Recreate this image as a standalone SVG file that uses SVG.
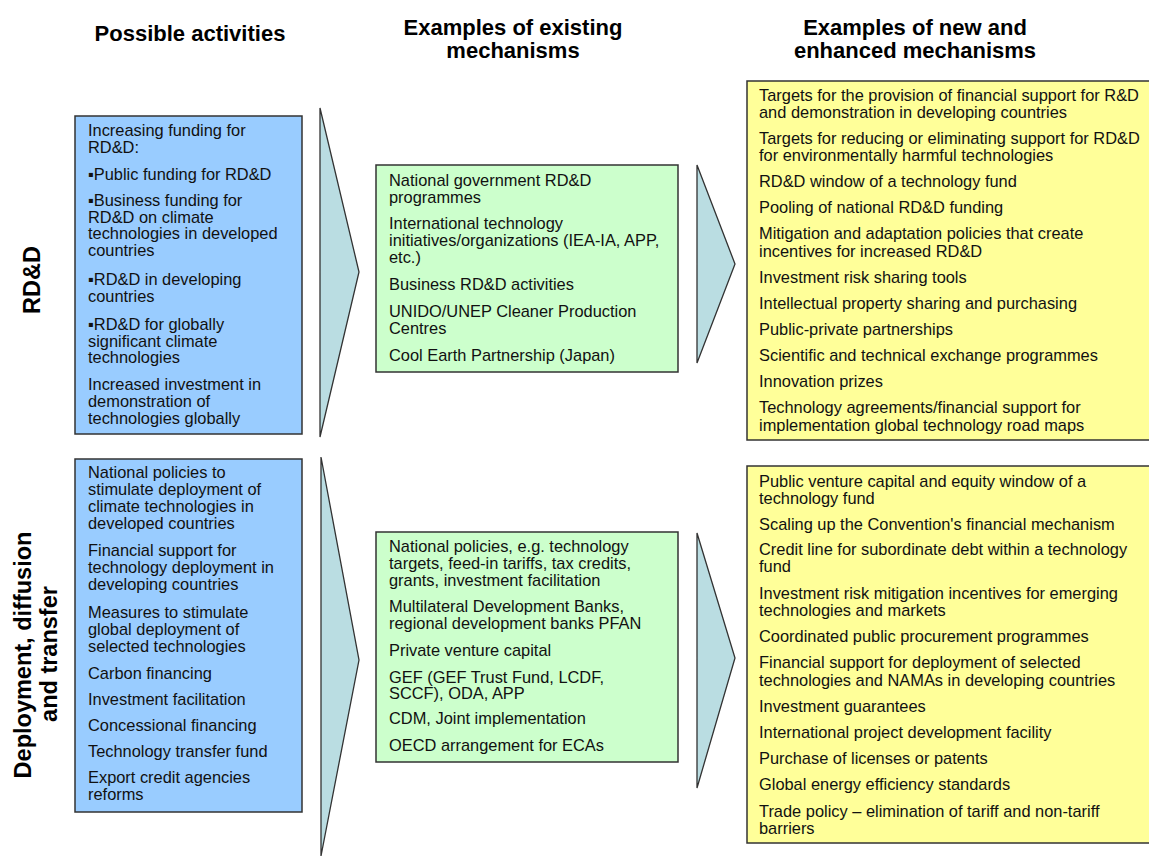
<svg xmlns="http://www.w3.org/2000/svg" width="1149" height="859" viewBox="0 0 1149 859">
<style>
.hd{font-family:"Liberation Sans",Arial,sans-serif;font-weight:bold;font-size:22px;fill:#000}
.side{font-family:"Liberation Sans",Arial,sans-serif;font-weight:bold;font-size:23.5px;fill:#000}
.t{font-family:"Liberation Sans",Arial,sans-serif;font-size:16.4px;fill:#111}
.blue{fill:#99ccff;stroke:#333;stroke-width:1.5}
.green{fill:#ccffcc;stroke:#333;stroke-width:1.5}
.yellow{fill:#ffff99;stroke:#333;stroke-width:1.5}
.arr{fill:#badde2;stroke:#333;stroke-width:1.3;stroke-linejoin:miter}
</style>
<rect width="1149" height="859" fill="#fff"/>
<g id="headers">
<text class="hd" x="190" y="41" text-anchor="middle" font-size="23">Possible activities</text>
<text class="hd" x="513" y="35" text-anchor="middle">Examples of existing</text>
<text class="hd" x="513" y="58" text-anchor="middle">mechanisms</text>
<text class="hd" x="915" y="35" text-anchor="middle">Examples of new and</text>
<text class="hd" x="915" y="58" text-anchor="middle">enhanced mechanisms</text>
</g>
<g id="row-labels">
<text class="side" transform="translate(40,280) rotate(-90)" text-anchor="middle" font-size="22">RD&amp;D</text>
<text class="side" transform="translate(31,655) rotate(-90)" text-anchor="middle">Deployment, diffusion</text>
<text class="side" transform="translate(57,654) rotate(-90)" text-anchor="middle">and transfer</text>
</g>
<g id="connectors">
<polygon class="arr" points="320,108 359,272 320,437"/>
<polygon class="arr" points="697,165 735,264 697,363"/>
<polygon class="arr" points="321,457 359,660 321,856"/>
<polygon class="arr" points="697,533 735,658 697,788"/>
</g>
<g id="rdd-activities">
<rect class="blue" x="75" y="116" width="227" height="318"/>
<text class="t" x="88" y="136">Increasing funding for</text>
<text class="t" x="88" y="153">RD&amp;D:</text>
<text class="t" x="88" y="180">▪Public funding for RD&amp;D</text>
<text class="t" x="88" y="206">▪Business funding for</text>
<text class="t" x="88" y="223">RD&amp;D on climate</text>
<text class="t" x="88" y="239">technologies in developed</text>
<text class="t" x="88" y="256">countries</text>
<text class="t" x="88" y="285">▪RD&amp;D in developing</text>
<text class="t" x="88" y="302">countries</text>
<text class="t" x="88" y="330">▪RD&amp;D for globally</text>
<text class="t" x="88" y="347">significant climate</text>
<text class="t" x="88" y="363">technologies</text>
<text class="t" x="88" y="390">Increased investment in</text>
<text class="t" x="88" y="407">demonstration of</text>
<text class="t" x="88" y="424">technologies globally</text>
</g>
<g id="rdd-existing">
<rect class="green" x="376" y="165" width="302" height="207"/>
<text class="t" x="389" y="186">National government RD&amp;D</text>
<text class="t" x="389" y="203">programmes</text>
<text class="t" x="389" y="229">International technology</text>
<text class="t" x="389" y="246">initiatives/organizations (IEA-IA, APP,</text>
<text class="t" x="389" y="263">etc.)</text>
<text class="t" x="389" y="290">Business RD&amp;D activities</text>
<text class="t" x="389" y="317">UNIDO/UNEP Cleaner Production</text>
<text class="t" x="389" y="334">Centres</text>
<text class="t" x="389" y="361">Cool Earth Partnership (Japan)</text>
</g>
<g id="rdd-new">
<rect class="yellow" x="747" y="81" width="420" height="359"/>
<text class="t" x="759" y="101">Targets for the provision of financial support for R&amp;D</text>
<text class="t" x="759" y="118">and demonstration in developing countries</text>
<text class="t" x="759" y="144">Targets for reducing or eliminating support for RD&amp;D</text>
<text class="t" x="759" y="161">for environmentally harmful technologies</text>
<text class="t" x="759" y="187">RD&amp;D window of a technology fund</text>
<text class="t" x="759" y="213">Pooling of national RD&amp;D funding</text>
<text class="t" x="759" y="239">Mitigation and adaptation policies that create</text>
<text class="t" x="759" y="257">incentives for increased RD&amp;D</text>
<text class="t" x="759" y="283">Investment risk sharing tools</text>
<text class="t" x="759" y="309">Intellectual property sharing and purchasing</text>
<text class="t" x="759" y="335">Public-private partnerships</text>
<text class="t" x="759" y="361">Scientific and technical exchange programmes</text>
<text class="t" x="759" y="387">Innovation prizes</text>
<text class="t" x="759" y="413">Technology agreements/financial support for</text>
<text class="t" x="759" y="431">implementation global technology road maps</text>
</g>
<g id="deploy-activities">
<rect class="blue" x="75" y="459" width="227" height="353"/>
<text class="t" x="88" y="478">National policies to</text>
<text class="t" x="88" y="495">stimulate deployment of</text>
<text class="t" x="88" y="512">climate technologies in</text>
<text class="t" x="88" y="529">developed countries</text>
<text class="t" x="88" y="556">Financial support for</text>
<text class="t" x="88" y="573">technology deployment in</text>
<text class="t" x="88" y="590">developing countries</text>
<text class="t" x="88" y="618">Measures to stimulate</text>
<text class="t" x="88" y="635">global deployment of</text>
<text class="t" x="88" y="652">selected technologies</text>
<text class="t" x="88" y="679">Carbon financing</text>
<text class="t" x="88" y="705">Investment facilitation</text>
<text class="t" x="88" y="731">Concessional financing</text>
<text class="t" x="88" y="757">Technology transfer fund</text>
<text class="t" x="88" y="783">Export credit agencies</text>
<text class="t" x="88" y="800">reforms</text>
</g>
<g id="deploy-existing">
<rect class="green" x="376" y="532" width="302" height="230"/>
<text class="t" x="389" y="552">National policies, e.g. technology</text>
<text class="t" x="389" y="569">targets, feed-in tariffs, tax credits,</text>
<text class="t" x="389" y="586">grants, investment facilitation</text>
<text class="t" x="389" y="612">Multilateral Development Banks,</text>
<text class="t" x="389" y="629">regional development banks PFAN</text>
<text class="t" x="389" y="656">Private venture capital</text>
<text class="t" x="389" y="683">GEF (GEF Trust Fund, LCDF,</text>
<text class="t" x="389" y="699">SCCF), ODA,  APP</text>
<text class="t" x="389" y="724">CDM, Joint implementation</text>
<text class="t" x="389" y="751">OECD arrangement for ECAs</text>
</g>
<g id="deploy-new">
<rect class="yellow" x="747" y="466" width="420" height="377"/>
<text class="t" x="759" y="487">Public venture capital and equity window of a</text>
<text class="t" x="759" y="504">technology fund</text>
<text class="t" x="759" y="530">Scaling up the Convention's financial mechanism</text>
<text class="t" x="759" y="555">Credit line for subordinate debt within a technology</text>
<text class="t" x="759" y="572">fund</text>
<text class="t" x="759" y="599">Investment risk mitigation incentives for emerging</text>
<text class="t" x="759" y="616">technologies and markets</text>
<text class="t" x="759" y="642">Coordinated public procurement programmes</text>
<text class="t" x="759" y="668">Financial support for deployment of selected</text>
<text class="t" x="759" y="686">technologies and NAMAs in developing countries</text>
<text class="t" x="759" y="712">Investment guarantees</text>
<text class="t" x="759" y="738">International project development facility</text>
<text class="t" x="759" y="764">Purchase of licenses or patents</text>
<text class="t" x="759" y="790">Global energy efficiency standards</text>
<text class="t" x="759" y="817">Trade policy – elimination of tariff and non-tariff</text>
<text class="t" x="759" y="834">barriers</text>
</g>
</svg>
